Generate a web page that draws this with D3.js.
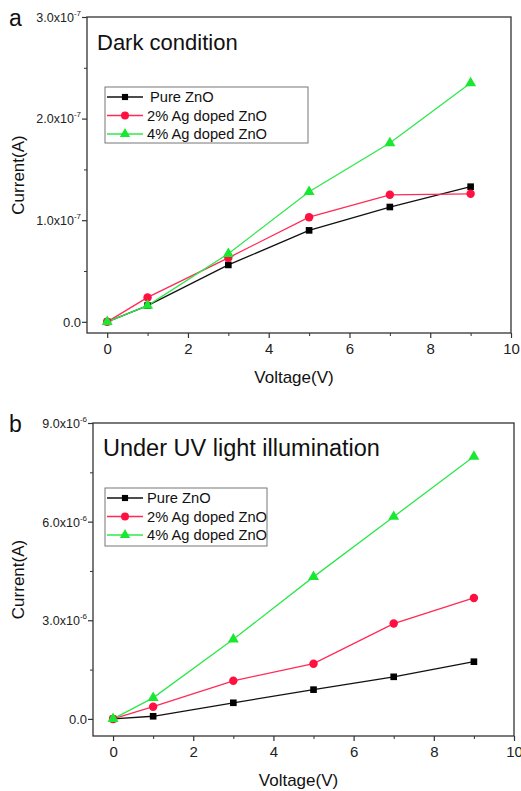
<!DOCTYPE html>
<html>
<head>
<meta charset="utf-8">
<script src="https://cdn.jsdelivr.net/npm/d3@7"></script>
<style>
  body { margin: 0; background: #fff; }
  svg text { font-family: "Liberation Sans", Arial, sans-serif; fill: #111; }
</style>
</head>
<body>
<svg id="chart" width="521" height="791"></svg>
<script>
// données
const voltages = [0, 1, 3, 5, 7, 9];
const seriesNames = ["Pure ZnO", "2% Ag doped ZnO", "4% Ag doped ZnO"];

// (a) obscurité, en 1e-7 A
const darkPure = [0, 0.16, 0.56, 0.90, 1.13, 1.33];
const dark2Ag = [0, 0.24, 0.63, 1.03, 1.25, 1.26];
const dark4Ag = [0, 0.16, 0.67, 1.28, 1.76, 2.35];

// (b) sous UV, en 1e-6 A
const uvPure = [0, 0.08, 0.49, 0.89, 1.28, 1.74];
const uv2Ag = [0, 0.37, 1.16, 1.68, 2.90, 3.68];
const uv4Ag = [0, 0.64, 2.42, 4.32, 6.15, 7.98];

const xTicks = [0, 2, 4, 6, 8, 10];
const darkYTicks = [0, 1, 2, 3];
const uvYTicks = [0, 3, 6, 9];

const colors = ["#000000", "#ff1040", "#18e830"];
const lineColors = ["#111111", "#ff2a55", "#2ee84a"];
const symbols = [d3.symbolSquare, d3.symbolCircle, d3.symbolTriangle];
const symbolSizes = [44, 56, 52];

const svg = d3.select("#chart");

/**
 * dessin d'un panneau
 */
function drawPanel(p) {
  const x = d3.scaleLinear().domain([-0.5, 10]).range([p.left, p.right]);
  const y = d3.scaleLinear().domain(p.yDomain).range([p.bottom, p.top]);
  const g = svg.append("g");

  // cadre
  g.append("rect")
    .attr("x", p.left).attr("y", p.top)
    .attr("width", p.right - p.left).attr("height", p.bottom - p.top)
    .attr("fill", "none").attr("stroke", "#333").attr("stroke-width", 1.3);

  // axe x
  const xAxis = d3.axisBottom(x).tickValues(xTicks).tickSize(5).tickPadding(5).tickFormat(d3.format("d"));
  const gx = g.append("g").attr("transform", `translate(0,${p.bottom})`).call(xAxis);
  gx.select(".domain").remove();
  gx.selectAll("line").attr("stroke", "#333").attr("stroke-width", 1.2);
  gx.selectAll("text").attr("font-size", 15).style("fill", "#222");
  g.append("g").attr("transform", `translate(0,${p.bottom})`)
    .call(d3.axisBottom(x).tickValues([1, 3, 5, 7, 9]).tickSize(3).tickFormat(""))
    .call(s => s.select(".domain").remove())
    .selectAll("line").attr("stroke", "#333");

  // axe y
  const gy = g.append("g").attr("transform", `translate(${p.left},0)`)
    .call(d3.axisLeft(y).tickValues(p.yTicks).tickSize(5).tickFormat(""));
  gy.select(".domain").remove();
  gy.selectAll("line").attr("stroke", "#333").attr("stroke-width", 1.2);
  gy.selectAll(".tick").each(function(d) {
    const t = d3.select(this).append("text")
      .attr("x", -6).attr("dy", "0.35em")
      .attr("text-anchor", "end").style("fill", "#222");
    if (d === 0) {
      t.attr("font-size", 13).text("0.0");
    } else {
      t.attr("font-size", 12.5);
      t.append("tspan").text(d.toFixed(1) + "x10");
      t.append("tspan").attr("font-size", 8).attr("dy", "-0.75em").text(p.exp);
    }
  });
  g.append("g").attr("transform", `translate(${p.left},0)`)
    .call(d3.axisLeft(y).tickValues(p.yMinor).tickSize(3).tickFormat(""))
    .call(s => s.select(".domain").remove())
    .selectAll("line").attr("stroke", "#333");

  // lettre du panneau
  g.append("text").attr("x", 9).attr("y", p.top + 9)
    .attr("font-size", 23).text(p.letter);

  // titre
  g.append("text").attr("x", p.left + 10).attr("y", p.top + 33)
    .attr("font-size", p.titleSize).text(p.title);

  // noms des axes
  g.append("text").attr("x", (p.left + p.right) / 2 - 5).attr("y", p.bottom + 50)
    .attr("text-anchor", "middle").attr("font-size", 17).text("Voltage(V)");
  g.append("text")
    .attr("transform", `translate(24,${(p.top + p.bottom) / 2}) rotate(-90)`)
    .attr("text-anchor", "middle").attr("font-size", 17).text("Current(A)");

  // courbes
  const line = d3.line().x((d, i) => x(voltages[i])).y(d => y(d));
  p.series.forEach((vals, k) => {
    g.append("path").datum(vals)
      .attr("fill", "none").attr("stroke", lineColors[k]).attr("stroke-width", 1.3)
      .attr("d", line);
  });
  p.series.forEach((vals, k) => {
    g.selectAll(null).data(vals).enter().append("path")
      .attr("transform", (d, i) => `translate(${x(voltages[i])},${y(d)})`)
      .attr("d", d3.symbol().type(symbols[k]).size(symbolSizes[k]))
      .attr("fill", colors[k]);
  });

  // légende
  const lg = g.append("g");
  lg.append("rect")
    .attr("x", p.legend.x).attr("y", p.legend.y)
    .attr("width", p.legend.w).attr("height", p.legend.h)
    .attr("fill", "#fff").attr("stroke", "#777").attr("stroke-width", 1);
  seriesNames.forEach((name, k) => {
    const ly = p.legend.y + 10 + k * 18.5;
    lg.append("line")
      .attr("x1", p.legend.x + 2).attr("x2", p.legend.x + 38)
      .attr("y1", ly).attr("y2", ly)
      .attr("stroke", lineColors[k]).attr("stroke-width", 1.3);
    lg.append("path")
      .attr("transform", `translate(${p.legend.x + 20},${ly})`)
      .attr("d", d3.symbol().type(symbols[k]).size(symbolSizes[k] - 6))
      .attr("fill", colors[k]);
    lg.append("text")
      .attr("x", p.legend.x + (k === 0 && p.legend.gap ? 45 : 42)).attr("y", ly)
      .attr("dy", "0.35em").attr("font-size", 14.7).text(name);
  });
}

drawPanel({
  letter: "a", title: "Dark condition", exp: "-7", titleSize: 22,
  left: 87, right: 511, top: 17, bottom: 333,
  yDomain: [-0.11, 3.0], yTicks: darkYTicks, yMinor: [0.5, 1.5, 2.5],
  series: [darkPure, dark2Ag, dark4Ag],
  legend: { x: 105, y: 87, w: 203, h: 56, gap: true }
});

drawPanel({
  letter: "b", title: "Under UV light illumination", exp: "-6", titleSize: 23.5,
  left: 93, right: 514, top: 423, bottom: 736,
  yDomain: [-0.52, 9.0], yTicks: uvYTicks, yMinor: [1.5, 4.5, 7.5],
  series: [uvPure, uv2Ag, uv4Ag],
  legend: { x: 105, y: 488, w: 162, h: 58, gap: false }
});
</script>
</body>
</html>
